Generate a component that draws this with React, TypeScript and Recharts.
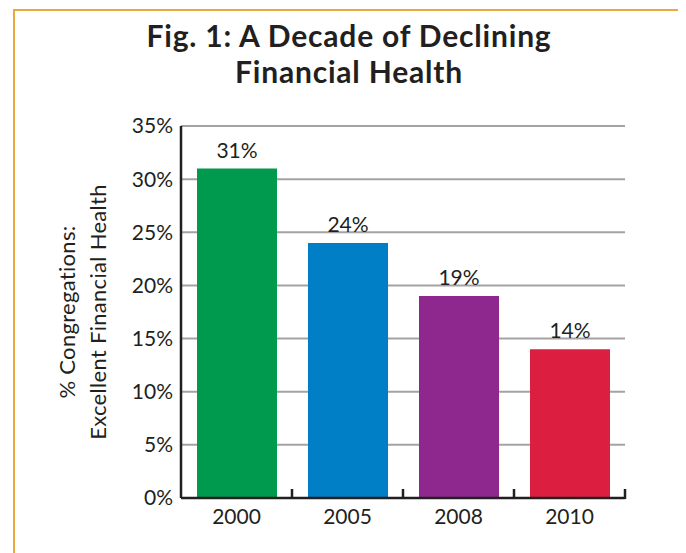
import React from "react";
import { BarChart, Bar, XAxis, YAxis, CartesianGrid, Cell, LabelList, Label } from "recharts";

const years = ["2000", "2005", "2008", "2010"];
const values = [31, 24, 19, 14];
const barColors = ["#009A4E", "#007EC6", "#8E288F", "#DC1F40"];
const yTicks = [0, 5, 10, 15, 20, 25, 30, 35];
const titleLines = ["Fig. 1: A Decade of Declining", "Financial Health"];
const yLabelLines = ["% Congregations:", "Excellent Financial Health"];

const data = years.map((y, i) => ({ year: y, value: values[i] }));

const FONT = "Lato, 'Open Sans', sans-serif";
const INK = "#231F20";
const X_TICK_MARGIN = 11;

const XTick = (props: any) => {
  const { x, y, payload, width, visibleTicksCount } = props;
  const half = payload && payload.offset > 0 ? payload.offset : width / visibleTicksCount / 2;
  const axisY = y - X_TICK_MARGIN;
  const bx = x + half;
  return (
    <g>
      <line x1={bx} x2={bx} y1={axisY + 1} y2={axisY - 9} stroke={INK} strokeWidth={2.5} />
      <text x={x} y={y} dy="0.71em" textAnchor="middle" fill={INK} fontSize={21} fontFamily={FONT}>
        {payload.value}
      </text>
    </g>
  );
};

const YLabel = (props: any) => {
  const vb = props.viewBox || { x: 0, y: 126, width: 181, height: 372 };
  const cy = vb.y + vb.height / 2;
  const xs = [vb.x + 75, vb.x + 106];
  return (
    <g>
      {yLabelLines.map((t, i) => (
        <text
          key={i}
          x={xs[i]}
          y={cy}
          textAnchor="middle"
          transform={`rotate(-90 ${xs[i]} ${cy})`}
          fill={INK}
          fontSize={22}
          fontFamily={FONT}
          letterSpacing={0.3}
        >
          {t}
        </text>
      ))}
    </g>
  );
};

export default function App() {
  return (
    <div
      style={{
        position: "relative",
        width: 686,
        height: 553,
        margin: "-8px 0 0 -8px",
        overflow: "hidden",
        background: "#fff",
        fontFamily: FONT,
      }}
    >
      <div
        style={{
          position: "absolute",
          left: 12.5,
          top: 9,
          width: 672,
          height: 600,
          boxSizing: "border-box",
          borderTop: "2.5px solid #EAA83E",
          borderLeft: "2.5px solid #EAA83E",
          borderRight: "2.5px solid #EAA83E",
        }}
      />
      {titleLines.map((t, i) => (
        <div
          key={i}
          style={{
            position: "absolute",
            left: 0,
            width: 698,
            top: 17 + i * 36,
            textAlign: "center",
            fontSize: 30,
            lineHeight: "36px",
            fontWeight: 700,
            letterSpacing: 0.8,
            color: INK,
            whiteSpace: "nowrap",
          }}
        >
          {t}
        </div>
      ))}
      <div style={{ position: "absolute", left: 0, top: 0 }}>
        <BarChart
          width={686}
          height={553}
          data={data}
          margin={{ top: 126, right: 61, bottom: 0, left: 0 }}
        >
          <CartesianGrid vertical={false} stroke="#A3A3A3" strokeWidth={2} />
          <XAxis
            dataKey="year"
            axisLine={{ stroke: INK, strokeWidth: 2.5 }}
            tickLine={false}
            tickSize={0}
            tickMargin={X_TICK_MARGIN}
            tick={<XTick />}
            height={55}
            interval={0}
          />
          <YAxis
            domain={[0, 35]}
            ticks={yTicks}
            width={181}
            axisLine={{ stroke: INK, strokeWidth: 2.5 }}
            tickLine={false}
            tickSize={0}
            tickMargin={8}
            tickFormatter={(v: number) => `${v}%`}
            tick={{ fill: INK, fontSize: 21, fontFamily: FONT }}
          >
            <Label content={<YLabel />} position="insideLeft" />
          </YAxis>
          <Bar dataKey="value" barSize={80} isAnimationActive={false}>
            {data.map((d, i) => (
              <Cell key={d.year} fill={barColors[i]} />
            ))}
            <LabelList
              dataKey="value"
              position="top"
              offset={11}
              formatter={(v: any) => `${v}%`}
              fill={INK}
              fontSize={21}
              fontFamily={FONT}
            />
          </Bar>
        </BarChart>
      </div>
    </div>
  );
}
